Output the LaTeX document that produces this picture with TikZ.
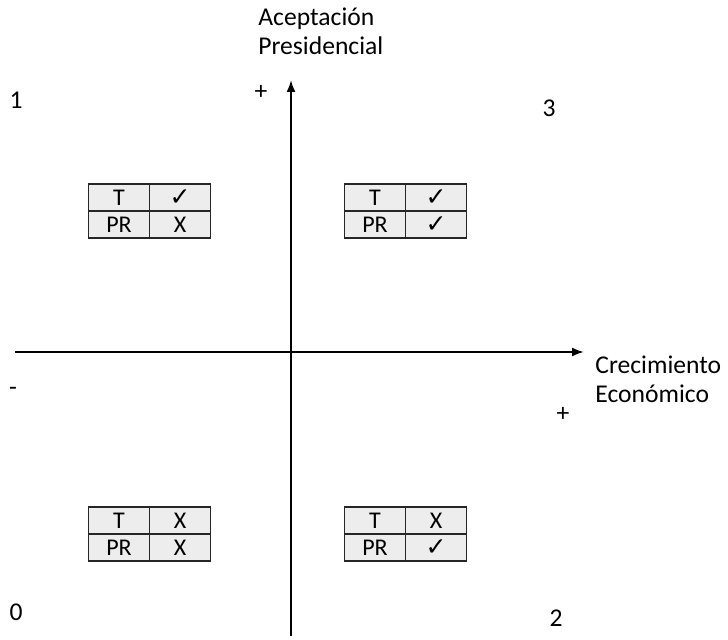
\documentclass[tikz,border=0pt]{standalone}
\usepackage{fontspec}
\setmainfont{Carlito}
\newfontfamily\symfont{DejaVu Sans}
\usetikzlibrary{arrows.meta}
\newcommand\chk{{\symfont\fontsize{12.5}{12.5}\selectfont ✓}}
\tikzset{
  cell/.style={draw=black!85,line width=0.8pt,fill=black!7,minimum width=30.5pt,minimum height=13.5pt,inner sep=0pt,font=\fontsize{12}{12}\selectfont},
  lab/.style={font=\fontsize{12.8}{14.5}\selectfont,align=left,inner sep=0pt},
  axis/.style={line width=1pt,->}
}
\begin{document}
\begin{tikzpicture}[x=0.5pt,y=-0.5pt,>={Latex[length=6pt,width=4.5pt]}]
\useasboundingbox (0,0) rectangle (728,640);
% axes
\coordinate (xl) at (15,352);
\coordinate (xr) at (584,352);
\coordinate (yb) at (291,636);
\coordinate (yt) at (291,80);
\draw[axis] (xl)--(xr);
\draw[axis] (yb)--(yt);
\node[lab,anchor=north west] (lblY) at (258,7) {Aceptación\\Presidencial};
\node[lab,anchor=west] (lblX) at (595,379) {Crecimiento\\Económico};
\node[lab] (plusY) at (261,92) {+};
\node[lab] (plusX) at (563,414) {+};
\node[lab] (minusX) at (13,391) {-};
% quadrant numbers
\node[lab] (q1) at (16,100) {1};
\node[lab] (q3) at (549,108) {3};
\node[lab] (q0) at (16,612) {0};
\node[lab] (q2) at (556,618) {2};
% tables
\foreach \nm/\cx/\cy/\a/\b in {tl/119/211/\chk/X, tr/375/211/\chk/\chk, bl/119/534/X/X, br/375/534/X/\chk}{
  \node[cell] (\nm-t) at (\cx,\cy-13.5) {T};
  \node[cell] (\nm-ta) at (\cx+61,\cy-13.5) {\a};
  \node[cell] (\nm-p) at (\cx,\cy+13.5) {PR};
  \node[cell] (\nm-pb) at (\cx+61,\cy+13.5) {\b};
}
\end{tikzpicture}
\end{document}
